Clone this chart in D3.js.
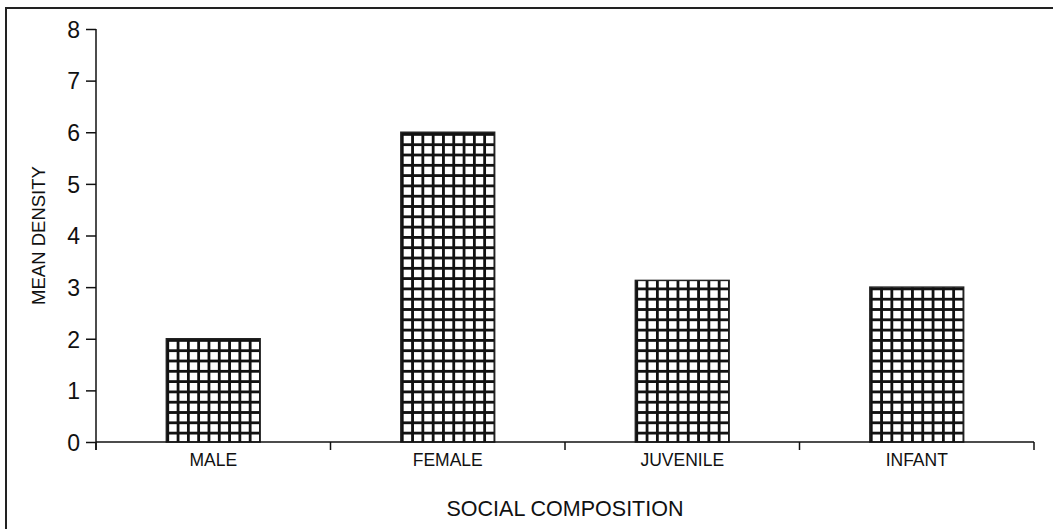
<!DOCTYPE html>
<html>
<head>
<meta charset="utf-8">
<script src="https://cdn.jsdelivr.net/npm/d3@7"></script>
<style>
  body { margin: 0; background: #fff; }
  svg { display: block; }
  text { font-family: "Liberation Sans", Arial, sans-serif; }
</style>
</head>
<body>
<svg id="chart" width="1053" height="529"></svg>
<script>
// data
const categories = ['MALE', 'FEMALE', 'JUVENILE', 'INFANT'];
const meanDensity = [2.0, 6.0, 3.13, 3.0];
const yTicks = [0, 1, 2, 3, 4, 5, 6, 7, 8];

const svg = d3.select('#chart');
const width = 1053, height = 529;
const margin = { left: 96, right: 19, top: 29, bottom: 87 };

// outer frame (right and bottom edges run off the picture)
svg.append('rect')
  .attr('x', 6).attr('y', 8)
  .attr('width', width + 20).attr('height', height + 20)
  .attr('fill', 'none')
  .attr('stroke', '#222')
  .attr('stroke-width', 2);

const x = d3.scaleBand()
  .domain(categories)
  .range([margin.left, width - margin.right])
  .padding(0);

const y = d3.scaleLinear()
  .domain([0, 8])
  .range([height - margin.bottom, margin.top]);

const barW = x.bandwidth() * 0.4;
const cell = 10.3;

// one grid pattern per bar so the lines start at the bar's left/bottom edge
const defs = svg.append('defs');
categories.forEach((c, i) => {
  const bx = x(c) + (x.bandwidth() - barW) / 2;
  const p = defs.append('pattern')
    .attr('id', 'grid' + i)
    .attr('patternUnits', 'userSpaceOnUse')
    .attr('x', bx).attr('y', y(0))
    .attr('width', cell).attr('height', cell);
  p.append('rect').attr('width', cell).attr('height', cell).attr('fill', '#fff');
  p.append('rect').attr('x', 0).attr('y', 0).attr('width', 2.8).attr('height', cell).attr('fill', '#111');
  p.append('rect').attr('x', 0).attr('y', 0).attr('width', cell).attr('height', 2.8).attr('fill', '#111');
});

svg.append('g')
  .selectAll('rect')
  .data(meanDensity)
  .enter().append('rect')
  .attr('x', (d, i) => x(categories[i]) + (x.bandwidth() - barW) / 2)
  .attr('y', d => y(d))
  .attr('width', barW)
  .attr('height', d => y(0) - y(d))
  .attr('fill', (d, i) => `url(#grid${i})`)
  .attr('stroke', '#222')
  .attr('stroke-width', 1.5);

// y axis
const yAxis = svg.append('g')
  .attr('transform', `translate(${margin.left},0)`)
  .call(d3.axisLeft(y).tickValues(yTicks).tickSize(10).tickPadding(6).tickFormat(d3.format('d')));
yAxis.attr('font-family', null);
yAxis.selectAll('text').attr('font-size', 23).attr('fill', '#111').attr('dy', '0.36em');
yAxis.select('.domain').attr('d', `M-0,${y(8)}H0V${y(0) + 8}`);
yAxis.selectAll('line, path').attr('stroke', '#111').attr('stroke-width', 1.5);

// x axis: ticks at the band edges, labels under each bar
const edges = categories.map(c => x(c)).concat([x.range()[1]]);
const xg = svg.append('g').attr('transform', `translate(0,${y(0)})`);
xg.append('line')
  .attr('x1', margin.left).attr('x2', x.range()[1])
  .attr('stroke', '#111').attr('stroke-width', 1.5);
xg.selectAll('line.tick')
  .data(edges)
  .enter().append('line')
  .attr('class', 'tick')
  .attr('x1', d => d).attr('x2', d => d)
  .attr('y1', 0).attr('y2', 8)
  .attr('stroke', '#111').attr('stroke-width', 1.5);

xg.selectAll('text')
  .data(categories)
  .enter().append('text')
  .attr('x', d => x(d) + x.bandwidth() / 2)
  .attr('y', 24)
  .attr('text-anchor', 'middle')
  .attr('font-size', 17.5)
  .attr('fill', '#111')
  .text(d => d);

// axis titles
svg.append('text')
  .attr('x', (margin.left + x.range()[1]) / 2)
  .attr('y', 516)
  .attr('text-anchor', 'middle')
  .attr('font-size', 21.5)
  .attr('fill', '#111')
  .text('SOCIAL COMPOSITION');

svg.append('text')
  .attr('transform', `translate(45,${(y(0) + y(8)) / 2}) rotate(-90)`)
  .attr('text-anchor', 'middle')
  .attr('font-size', 18.5)
  .attr('fill', '#111')
  .text('MEAN DENSITY');
</script>
</body>
</html>
